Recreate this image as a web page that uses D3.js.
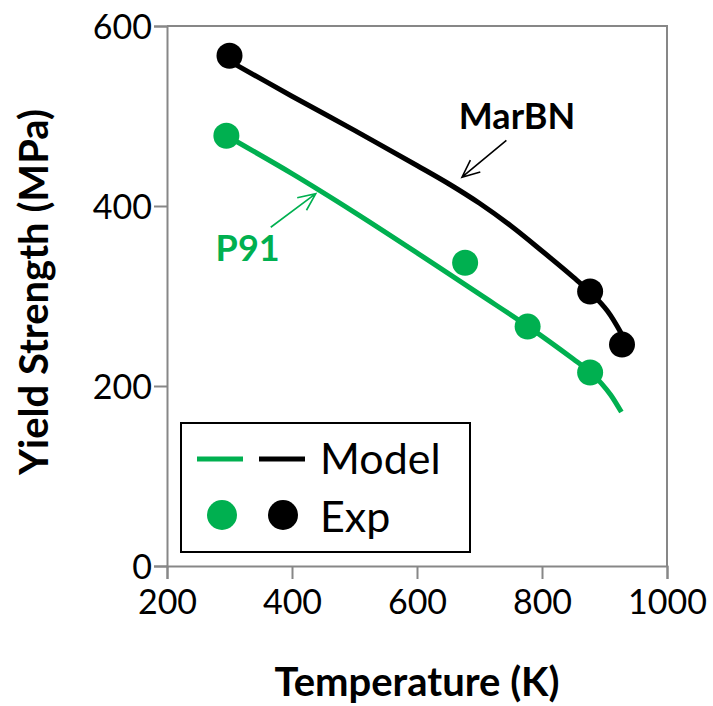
<!DOCTYPE html>
<html>
<head>
<meta charset="utf-8">
<script src="https://cdn.jsdelivr.net/npm/d3@7"></script>
<style>
  body { margin: 0; background: #fff; }
  svg { display: block; }
  text { font-family: Lato, 'Open Sans', sans-serif; }
</style>
</head>
<body>
<div id="chart"></div>
<script>
// temperature (K) / yield strength (MPa)
const marbnModelT = [300, 400, 500, 600, 650, 700, 750, 800, 850, 879, 905, 928];
const marbnModelY = [561, 522, 484, 445, 425, 403, 378, 350, 321, 303, 283, 257];
const p91ModelT = [295, 400, 500, 600, 700, 778, 850, 878, 895, 910, 927];
const p91ModelY = [478, 436, 393, 348, 302, 266, 230, 215, 203, 190, 171];
const marbnExpT = [300, 877, 928];
const marbnExpY = [567, 305, 246];
const p91ExpT = [295, 677, 777, 877];
const p91ExpY = [478, 337, 266, 215];

const xTicks = [200, 400, 600, 800, 1000];
const yTicks = [0, 200, 400, 600];
const legendLabels = ['Model', 'Exp'];

const green = '#00b050', black = '#000000', axisGray = '#878787';

const fmt = {
    width: 713,
    height: 706,
    margins: { left: 167, right: 46, top: 26, bottom: 140 }
};

let svg = d3.select('#chart').append('svg')
    .attr('width', fmt.width)
    .attr('height', fmt.height);

let width = fmt.width - fmt.margins.left - fmt.margins.right,
    height = fmt.height - fmt.margins.top - fmt.margins.bottom;

let x = d3.scaleLinear().domain([200, 1000]).range([0, width]),
    y = d3.scaleLinear().domain([0, 600]).range([height, 0]);

let g = svg.append('g')
    .attr('transform', 'translate(' + fmt.margins.left + ',' + fmt.margins.top + ')');

// plot frame (top + right)
g.append('path')
    .attr('d', 'M0,0H' + width + 'V' + height)
    .attr('fill', 'none')
    .attr('stroke', axisGray)
    .attr('stroke-width', 2);

let xAxis = g.append('g')
    .attr('transform', 'translate(0,' + height + ')')
    .call(d3.axisBottom(x).tickValues(xTicks).tickFormat(d3.format('d'))
        .tickSize(13).tickPadding(11));

let yAxis = g.append('g')
    .call(d3.axisLeft(y).tickValues(yTicks).tickFormat(d3.format('d'))
        .tickSize(13).tickPadding(2));

[xAxis, yAxis].forEach((a) => {
    a.select('.domain').attr('stroke', axisGray).attr('stroke-width', 2);
    a.selectAll('.tick line').attr('stroke', axisGray).attr('stroke-width', 2);
    a.selectAll('.tick text')
        .attr('fill', '#000')
        .style('font-size', '34px')
        .style('font-family', 'Lato, sans-serif');
});
yAxis.selectAll('.tick text').attr('dy', '0.36em');

svg.append('text')
    .attr('x', fmt.margins.left + width / 2)
    .attr('y', 696)
    .attr('text-anchor', 'middle')
    .style('font-size', '40px')
    .style('font-weight', 'bold')
    .text('Temperature (K)');

svg.append('text')
    .attr('transform', 'translate(48,292) rotate(-90)')
    .attr('text-anchor', 'middle')
    .style('font-size', '40px')
    .style('font-weight', 'bold')
    .text('Yield Strength (MPa)');

// model curves
let line = d3.line()
    .x((d) => x(d[0]))
    .y((d) => y(d[1]))
    .curve(d3.curveCatmullRom);

let models = [
    { T: p91ModelT, Y: p91ModelY, color: green },
    { T: marbnModelT, Y: marbnModelY, color: black }
];
models.forEach((m) => {
    g.append('path')
        .datum(d3.zip(m.T, m.Y))
        .attr('fill', 'none')
        .attr('stroke', m.color)
        .attr('stroke-width', 5)
        .attr('stroke-linejoin', 'round')
        .attr('d', line);
});

// experimental points
let exps = [
    { T: p91ExpT, Y: p91ExpY, color: green },
    { T: marbnExpT, Y: marbnExpY, color: black }
];
exps.forEach((e) => {
    g.selectAll(null)
        .data(d3.zip(e.T, e.Y))
        .enter().append('circle')
        .attr('cx', (d) => x(d[0]))
        .attr('cy', (d) => y(d[1]))
        .attr('r', 13)
        .attr('fill', e.color);
});

// annotations: label + thin arrow (data coords)
let notes = [
    { label: 'MarBN', at: [760, 485.6], from: [743, 473], to: [672, 432], color: black },
    { label: 'P91', at: [329, 339.4], from: [366, 376.4], to: [438, 413.7], color: green }
];
notes.forEach((n) => {
    g.append('text')
        .attr('x', x(n.at[0]))
        .attr('y', y(n.at[1]))
        .attr('text-anchor', 'middle')
        .attr('fill', n.color)
        .style('font-size', '36px')
        .style('font-weight', 'bold')
        .text(n.label);

    let x1 = x(n.from[0]), y1 = y(n.from[1]),
        x2 = x(n.to[0]), y2 = y(n.to[1]);
    let ang = Math.atan2(y2 - y1, x2 - x1), len = 19, spread = 0.42;
    let arms = [ang + Math.PI - spread, ang + Math.PI + spread]
        .map((a) => [x2 + len * Math.cos(a), y2 + len * Math.sin(a)]);
    g.append('path')
        .attr('d', 'M' + x1 + ',' + y1 + 'L' + x2 + ',' + y2 +
            'M' + arms[0] + 'L' + x2 + ',' + y2 + 'L' + arms[1])
        .attr('fill', 'none')
        .attr('stroke', n.color)
        .attr('stroke-width', 1.6);
});

// legend
let lg = svg.append('g').attr('transform', 'translate(181,423)');
lg.append('rect')
    .attr('width', 289)
    .attr('height', 129)
    .attr('fill', '#fff')
    .attr('stroke', '#000')
    .attr('stroke-width', 2);

[green, black].forEach((c, i) => {
    lg.append('line')
        .attr('x1', 16 + i * 62).attr('x2', 62 + i * 62)
        .attr('y1', 36).attr('y2', 36)
        .attr('stroke', c)
        .attr('stroke-width', 5);
    lg.append('circle')
        .attr('cx', 41 + i * 61)
        .attr('cy', 92)
        .attr('r', 15)
        .attr('fill', c);
});

lg.selectAll('.label')
    .data(legendLabels)
    .enter().append('text')
    .attr('x', 139)
    .attr('y', (_, i) => 51 + i * 58)
    .style('font-size', '43px')
    .text((d) => d);
</script>
</body>
</html>
